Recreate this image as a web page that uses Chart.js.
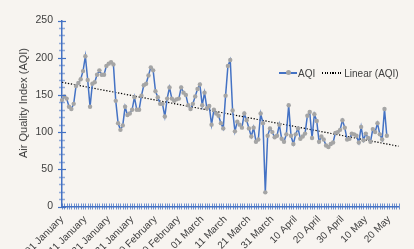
<!DOCTYPE html>
<html><head><meta charset="utf-8">
<script src="https://cdn.jsdelivr.net/npm/chart.js@4.4.1/dist/chart.umd.min.js"></script>
<style>
html,body{margin:0;padding:0;background:#f7f4f0;overflow:hidden}
#wrap{position:relative;width:414px;height:249px}
canvas{display:block}
.ytitle{position:absolute;left:23px;top:102.5px;transform:translate(-50%,-50%) rotate(-90deg);font:11px 'Liberation Sans',Arial,sans-serif;color:#404040;white-space:nowrap}
#legend{position:absolute;left:279px;top:66px;height:14px;display:flex;align-items:center;font:10px 'Liberation Sans',Arial,sans-serif;color:#404040}
.sw{position:relative;width:18px;height:1.5px;background:#4472c4;margin-right:1px}
.sw i{position:absolute;left:6.5px;top:-2px;width:5px;height:5px;border-radius:50%;background:#a5a5a5}
.sw2{width:20px;height:1.3px;background:repeating-linear-gradient(to right,#000 0 1.3px,transparent 1.3px 2.6px);margin:0 2px 0 7px}
</style></head>
<body>
<div id="wrap">
<canvas id="c" width="414" height="249"></canvas>
<div class="ytitle">Air Quality Index (AQI)</div>
<div id="legend"></div>
</div>
<script>
// ---- data ----
const monthNames = ['January','February','March','April','May'];
const monthDays = [31,29,31,30,31];
const dayCount = 145; // axis runs 01 January .. 24 May (2020)
const tickLabels = ['01 January','11 January','21 January','31 January','10 February','20 February','01 March','11 March','21 March','31 March','10 April','20 April','30 April','10 May','20 May'];
const aqiValues = [
 143,148,145,134,131,138,162,166,171,182,
 202,170,134,165,167,177,183,177,177,189,
 192,194,191,142,112,103,109,134,123,125,
 130,147,130,130,149,163,165,176,187,183,
 155,147,138,138,121,145,160,145,142,144,
 145,160,153,150,136,131,138,148,158,164,
 136,153,132,135,110,130,125,122,112,105,
 149,189,197,129,101,114,110,106,125,116,
 105,94,106,87,90,125,112,19,95,105,
 100,93,95,110,91,87,97,136,95,84,
 97,105,91,94,98,122,127,92,124,115,
 87,94,90,82,80,84,86,99,100,103,
 116,106,90,91,98,97,95,86,107,89,
 98,92,87,104,100,112,97,90,131,95
];
const trendStart = 167;  // Linear (AQI) at 01 January
const trendEnd = 81;     // Linear (AQI) at end of axis
const yTicks = [0,50,100,150,200,250];
const seriesNames = ['AQI','Linear (AQI)'];

// category labels (one per day)
const categories = [];
(function(){
  let m = 0, d = 1;
  for (let i = 0; i < dayCount; i++) {
    categories.push(String(d).padStart(2,'0') + ' ' + monthNames[m]);
    d++; if (d > monthDays[m]) { d = 1; m++; }
  }
})();

const tickPlugin = {
  id: 'crossTicks',
  afterDraw(chart) {
    const ctx = chart.ctx, xs = chart.scales.x, ys = chart.scales.y;
    ctx.save();
    ctx.lineWidth = 1;
    ctx.strokeStyle = 'rgba(68,114,196,0.75)';
    for (let i = 0; i < categories.length; i++) {
      const px = Math.round(xs.getPixelForValue(i)) + 0.5;
      ctx.beginPath(); ctx.moveTo(px, ys.bottom - 3); ctx.lineTo(px, ys.bottom + 3); ctx.stroke();
    }
    for (let v = yTicks[0]; v <= yTicks[yTicks.length-1]; v += 10) {
      const py = Math.round(ys.getPixelForValue(v)) + 0.5;
      const major = v % 50 === 0;
      ctx.strokeStyle = major ? '#4472c4' : 'rgba(68,114,196,0.55)';
      ctx.lineWidth = major ? 1.2 : 1.5;
      const L = major ? 4 : 3;
      ctx.beginPath(); ctx.moveTo(xs.left - L, py); ctx.lineTo(xs.left + L, py); ctx.stroke();
    }
    ctx.restore();
  }
};

new Chart(document.getElementById('c'), {
  type: 'line',
  data: {
    labels: categories,
    datasets: [{
      label: seriesNames[0],
      data: aqiValues,
      borderColor: '#4472c4',
      borderWidth: 1.5,
      pointRadius: 2.2,
      pointBackgroundColor: '#a5a5a5',
      pointBorderWidth: 0,
      tension: 0
    }, {
      label: seriesNames[1],
      data: [{x: categories[0], y: trendStart}, {x: categories[categories.length-1], y: trendEnd}],
      borderColor: '#000',
      borderWidth: 1.2,
      borderDash: [1.3, 1.7],
      pointRadius: 0,
      tension: 0
    }]
  },
  options: {
    responsive: false,
    animation: false,
    devicePixelRatio: 1,
    layout: { padding: { top: 20.5, right: 7, left: 0, bottom: 0 } },
    plugins: { legend: { display: false }, tooltip: { enabled: false } },
    scales: {
      x: {
        type: 'category',
        grid: { display: false, drawTicks: false },
        border: { display: true, color: '#4472c4', width: 1.5 },
        afterFit(s) { s.height = 42.5; },
        ticks: {
          autoSkip: false, maxRotation: 45, minRotation: 45, padding: 7,
          color: '#404040', font: { family: "'Liberation Sans', Arial, sans-serif", size: 10 },
          callback: (v, i) => (i % 10 === 0 && tickLabels[i/10]) ? tickLabels[i/10] : ''
        }
      },
      y: {
        min: yTicks[0], max: yTicks[yTicks.length-1],
        grid: { display: false, drawTicks: false },
        border: { display: true, color: '#4472c4', width: 1.5 },
        afterFit(s) { s.width = 62; },
        ticks: {
          stepSize: 50, padding: 9, color: '#404040',
          font: { family: "'Liberation Sans', Arial, sans-serif", size: 10.5 }
        }
      }
    }
  },
  plugins: [tickPlugin]
});

// legend (HTML overlay, built from the series names)
const lg = document.getElementById('legend');
lg.innerHTML = '<span class="sw"><i></i></span><span>' + seriesNames[0] + '</span>' +
               '<span class="sw2"></span><span>' + seriesNames[1] + '</span>';
</script>
</body></html>
